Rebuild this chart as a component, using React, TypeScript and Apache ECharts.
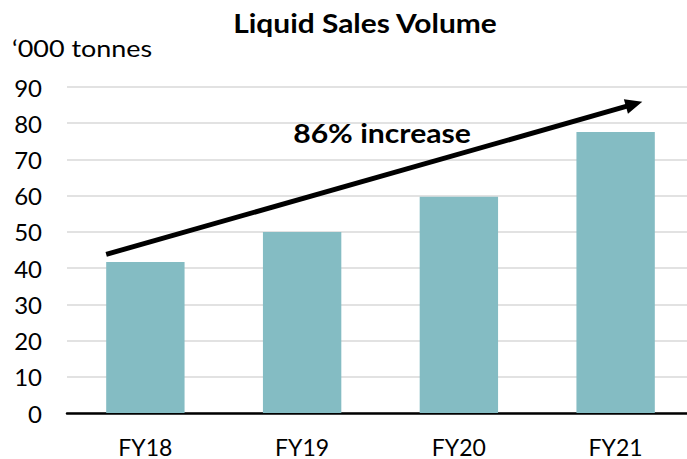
import React, { useEffect, useRef } from "react";
import * as echarts from "echarts";

const categories = ["FY18", "FY19", "FY20", "FY21"];
const volumes = [41.7, 50.0, 59.7, 77.6];
const yTicks = [0, 10, 20, 30, 40, 50, 60, 70, 80, 90];
// arrow annotation: [category position (index), value]
const arrowStart = [-0.25, 43.8];
const arrowEnd = [3.17, 85.9];

const FONT = "Lato, 'Liberation Sans', sans-serif";

export default function App() {
  const ref = useRef<HTMLDivElement>(null);
  useEffect(() => {
    if (!ref.current) return;
    const chart = echarts.init(ref.current, null, { renderer: "svg" });
    chart.setOption({
      animation: false,
      backgroundColor: "#ffffff",
      grid: {
        left: 67,
        width: 627,
        top: 87,
        bottom: 46,
        containLabel: false,
        outerBoundsMode: "none",
      },
      xAxis: {
        type: "category",
        data: categories,
        axisLine: { lineStyle: { color: "#000", width: 2.5 } },
        axisTick: { show: false },
        axisLabel: { fontFamily: FONT, fontSize: 23, color: "#000", margin: 22 },
      },
      yAxis: {
        type: "value",
        min: yTicks[0],
        max: yTicks[yTicks.length - 1],
        interval: 10,
        axisLine: { show: false },
        axisTick: { show: false },
        splitLine: { lineStyle: { color: "#d9d9d9", width: 1.5 } },
        axisLabel: { fontFamily: FONT, fontSize: 24, color: "#000", margin: 25 },
      },
      series: [
        {
          type: "bar",
          data: volumes,
          barWidth: "50%",
          itemStyle: { color: "#84bcc3" },
        },
      ],
    });
    const c0 = chart.convertToPixel({ gridIndex: 0 }, [0, 0]) as number[];
    const c1 = chart.convertToPixel({ gridIndex: 0 }, [1, 0]) as number[];
    const band = c1[0] - c0[0];
    const toPx = (p: number[]) => {
      const py = chart.convertToPixel({ yAxisIndex: 0 }, p[1]) as number;
      return [c0[0] + p[0] * band, py];
    };
    const p0 = toPx(arrowStart);
    const p1 = toPx(arrowEnd);
    const dx = p1[0] - p0[0];
    const dy = p1[1] - p0[1];
    const len = Math.sqrt(dx * dx + dy * dy);
    const ux = dx / len, uy = dy / len;
    const headL = 17, headW = 7.5;
    const base = [p1[0] - ux * headL, p1[1] - uy * headL];
    chart.setOption({
      graphic: [
        {
          type: "text",
          x: 365,
          y: 23,
          scaleX: 1.15,
          style: {
            text: "Liquid Sales Volume",
            font: `bold 26px ${FONT}`,
            fill: "#000",
            align: "center",
            verticalAlign: "middle",
          },
        },
        {
          type: "text",
          x: 12,
          y: 48,
          scaleX: 1.17,
          style: {
            text: "\u2018000 tonnes",
            font: `23px ${FONT}`,
            fill: "#000",
            align: "left",
            verticalAlign: "middle",
          },
        },
        {
          type: "text",
          x: 382,
          y: 133,
          scaleX: 1.16,
          style: {
            text: "86% increase",
            font: `bold 26px ${FONT}`,
            fill: "#000",
            align: "center",
            verticalAlign: "middle",
          },
        },
        {
          type: "line",
          shape: { x1: p0[0], y1: p0[1], x2: base[0] + ux * 2, y2: base[1] + uy * 2 },
          style: { stroke: "#000", lineWidth: 5 },
          z: 10,
        },
        {
          type: "polygon",
          shape: {
            points: [
              [p1[0], p1[1]],
              [base[0] - uy * headW, base[1] + ux * headW],
              [base[0] + uy * headW, base[1] - ux * headW],
            ],
          },
          style: { fill: "#000" },
          z: 10,
        },
      ],
    });
    return () => chart.dispose();
  }, []);
  return <div ref={ref} style={{ width: 687, height: 459, position: "absolute", left: 0, top: 0 }} />;
}
